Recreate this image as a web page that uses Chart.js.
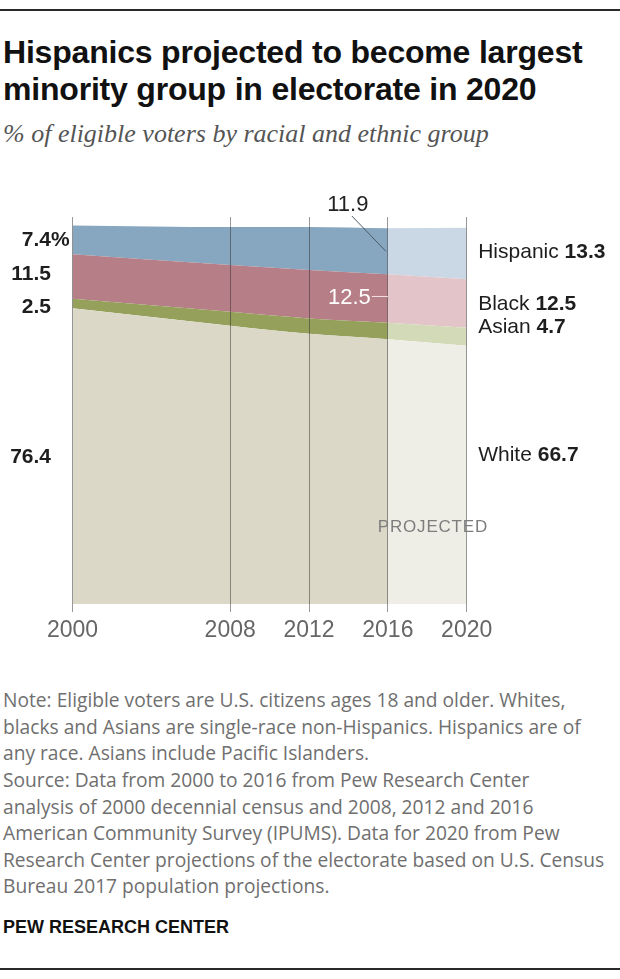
<!DOCTYPE html>
<html>
<head>
<meta charset="utf-8">
<script src="https://cdn.jsdelivr.net/npm/chart.js@4.4.1/dist/chart.umd.min.js"></script>
<style>
  body { margin: 0; width: 620px; height: 979px; background: #fff; position: relative; overflow: hidden; }
  .rule { position: absolute; left: 0; width: 620px; height: 2px; background: #2a2a2a; }
  #title { position: absolute; left: 3px; top: 34px; margin: 0; font: bold 32px/37px 'Liberation Sans', sans-serif; color: #111; white-space: nowrap; letter-spacing: -0.2px; }
  #subtitle { position: absolute; left: 3px; top: 121px; margin: 0; font: italic 26px/26px 'Liberation Serif', serif; color: #555; white-space: nowrap; }
  #chartBox { position: absolute; left: 0; top: 180px; width: 620px; height: 470px; }
  #notes { position: absolute; left: 3px; top: 687.3px; margin: 0; font: 19.2px/26.6px 'Open Sans', sans-serif; color: #6f6f6f; white-space: nowrap; }
  #credit { position: absolute; left: 3px; top: 918px; margin: 0; font: bold 18px/18px 'Liberation Sans', sans-serif; color: #111; }
</style>
</head>
<body>
<div class="rule" style="top:9px"></div>
<h1 id="title">Hispanics projected to become largest<br>minority group in electorate in 2020</h1>
<p id="subtitle">% of eligible voters by racial and ethnic group</p>
<div id="chartBox"><canvas id="electorateChart" width="620" height="470"></canvas></div>
<p id="notes">Note: Eligible voters are U.S. citizens ages 18 and older. Whites,<br>blacks and Asians are single-race non-Hispanics. Hispanics are of<br>any race. Asians include Pacific Islanders.<br>Source: Data from 2000 to 2016 from Pew Research Center<br>analysis of 2000 decennial census and 2008, 2012 and 2016<br>American Community Survey (IPUMS). Data for 2020 from Pew<br>Research Center projections of the electorate based on U.S. Census<br>Bureau 2017 population projections.</p>
<p id="credit">PEW RESEARCH CENTER</p>
<div class="rule" style="top:968px"></div>

<script>
const years = [2000, 2008, 2012, 2016, 2020];
const white = [76.4, 71.9, 69.8, 68.4, 66.7];
const asian = [2.5, 3.6, 4.0, 4.3, 4.7];
const black = [11.5, 12.1, 12.5, 12.5, 12.5];
const hispanic = [7.4, 9.8, 11.1, 11.9, 13.3];
const groupNames = ['White', 'Asian', 'Black', 'Hispanic'];
const projectedFrom = 2016;

const FONT = "'Liberation Sans', Arial, sans-serif";

// [historical, projected]
const palette = {
  White: ['#dbd8c8', '#efeee6'],
  Asian: ['#95a05b', '#d3dab7'],
  Black: ['#b67e87', '#e3c4c9'],
  Hispanic: ['#87a6bf', '#c9d8e4']
};

// small vertical nudges for the end labels (px)
const leftNudge = { White: -1, Asian: 2.4, Black: -3.5, Hispanic: -1.3 };
const rightNudge = { White: -21, Asian: -10.9, Black: -1.2, Hispanic: -2.8 };

function makeSet(name, values, fill) {
  const [dark, light] = palette[name];
  return {
    label: name,
    data: values.map((v, i) => ({ x: years[i], y: v })),
    fill: fill,
    backgroundColor: dark,
    borderColor: 'rgba(0,0,0,0)',
    borderWidth: 0,
    pointRadius: 0,
    pointHoverRadius: 0,
    cubicInterpolationMode: 'monotone',
    segment: {
      backgroundColor: c => (c.p0.parsed.x >= projectedFrom ? light : dark)
    }
  };
}

function drawMid(ctx, text, x, yMid, size) {
  // put the cap-height middle of the text on yMid
  ctx.fillText(text, x, yMid + size * 0.358);
}

const labelPlugin = {
  id: 'groupLabels',
  afterDraw(chart) {
    const { ctx, chartArea, scales: { x, y } } = chart;
    const metas = groupNames.map((_, k) => chart.getDatasetMeta(k));
    const bandMid = (k, i) => {
      const top = metas[k].data[i].y;
      const bottom = k === 0 ? y.getPixelForValue(0) : metas[k - 1].data[i].y;
      return (top + bottom) / 2;
    };
    const values = [white, asian, black, hispanic];
    const last = years.length - 1;
    const iProj = years.indexOf(projectedFrom);
    const xProj = x.getPixelForValue(projectedFrom);

    ctx.save();
    ctx.textBaseline = 'alphabetic';

    // left start values
    ctx.fillStyle = '#1e1e1e';
    groupNames.forEach((name, k) => {
      const ym = bandMid(k, 0) + leftNudge[name];
      const xr = x.left - 21.5;
      ctx.font = 'bold 21px ' + FONT;
      ctx.textAlign = 'right';
      drawMid(ctx, values[k][0].toFixed(1), xr, ym, 21);
      if (name === 'Hispanic') {
        ctx.textAlign = 'left';
        drawMid(ctx, '%', xr, ym, 21);
      }
    });

    // right end labels
    groupNames.forEach((name, k) => {
      const ym = bandMid(k, last) + rightNudge[name];
      let xl = x.right + 11.5;
      ctx.textAlign = 'left';
      ctx.font = '21px ' + FONT;
      drawMid(ctx, name + ' ', xl, ym, 21);
      xl += ctx.measureText(name + ' ').width;
      ctx.font = 'bold 21px ' + FONT;
      drawMid(ctx, values[k][last].toFixed(1), xl, ym, 21);
    });

    // 2016 Hispanic callout above the plot
    const hMid = bandMid(3, iProj);
    ctx.strokeStyle = '#4a5a66';
    ctx.lineWidth = 1;
    ctx.beginPath();
    ctx.moveTo(xProj - 36, chartArea.top - 1);
    ctx.lineTo(xProj - 2, hMid);
    ctx.stroke();
    ctx.fillStyle = '#222';
    ctx.font = '22px ' + FONT;
    ctx.textAlign = 'center';
    drawMid(ctx, hispanic[iProj].toFixed(1), xProj - 40, chartArea.top - 14, 22);

    // 2016 Black callout inside the band
    const bMid = bandMid(2, iProj) - 2;
    ctx.strokeStyle = '#f3e3e6';
    ctx.beginPath();
    ctx.moveTo(xProj - 16, bMid);
    ctx.lineTo(xProj, bMid);
    ctx.stroke();
    ctx.fillStyle = '#ffffff';
    ctx.textAlign = 'right';
    drawMid(ctx, black[iProj].toFixed(1), xProj - 17, bMid, 22);

    // projected marker
    ctx.fillStyle = '#7d7d7d';
    ctx.font = '17px ' + FONT;
    ctx.letterSpacing = '0.8px';
    ctx.textAlign = 'left';
    drawMid(ctx, 'PROJECTED', xProj - 10, chartArea.bottom - 78, 17);
    ctx.restore();
  }
};

new Chart(document.getElementById('electorateChart'), {
  type: 'line',
  data: {
    datasets: [
      makeSet('White', white, 'origin'),
      makeSet('Asian', asian, '-1'),
      makeSet('Black', black, '-1'),
      makeSet('Hispanic', hispanic, '-1')
    ]
  },
  options: {
    responsive: false,
    animation: false,
    layout: { padding: { left: 72.5, right: 153.3, top: 37, bottom: 6 } },
    plugins: {
      legend: { display: false },
      tooltip: { enabled: false }
    },
    scales: {
      x: {
        type: 'linear',
        min: 2000,
        max: 2020,
        afterBuildTicks: s => { s.ticks = years.map(v => ({ value: v })); },
        afterFit: s => { s.height = 40; },
        ticks: {
          autoSkip: false,
          maxRotation: 0,
          padding: 5,
          color: '#666',
          font: { family: FONT, size: 23 },
          callback: v => String(v)
        },
        grid: { z: 1, color: 'rgba(40,40,40,0.48)', lineWidth: 1, tickLength: 8 },
        border: { display: false }
      },
      y: { stacked: true, min: 0, max: 100, display: false }
    }
  },
  plugins: [labelPlugin]
});
</script>
</body>
</html>
